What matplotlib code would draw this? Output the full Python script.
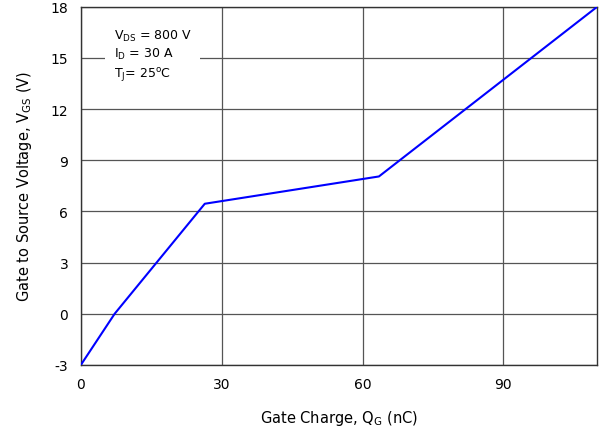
import matplotlib.pyplot as plt

plt.rcParams['axes.unicode_minus'] = False

# gate charge curve
qg = [0, 7.2, 26.4, 63.5, 110]
vgs = [-3, 0, 6.45, 8.05, 18]

x_ticks = [0, 30, 60, 90]
y_ticks = [-3, 0, 3, 6, 9, 12, 15, 18]

fig = plt.figure(figsize=(5.99, 4.31), dpi=100)
ax = fig.add_axes([0.135, 0.151, 0.862, 0.831])

ax.plot(qg, vgs, color='#0000ff', lw=1.5, zorder=3)

ax.set_xlim(0, 110)
ax.set_ylim(-3, 18)
ax.set_xticks(x_ticks)
ax.set_yticks(y_ticks)
ax.tick_params(length=0, pad=9, labelsize=10)
ax.grid(True, color='#555555', lw=0.9)
ax.set_axisbelow(True)
for s in ax.spines.values():
    s.set_color('#333333')
    s.set_linewidth(1.0)

ax.set_xlabel('Gate Charge, Q$_\\mathregular{G}$ (nC)', fontsize=10.5, labelpad=12)
ax.set_ylabel('Gate to Source Voltage, V$_\\mathregular{GS}$ (V)', fontsize=10.5, labelpad=12)

ax.text(7.0, 15.15,
        'V$_\\mathregular{DS}$ = 800 V\nI$_\\mathregular{D}$ = 30 A\nT$_\\mathregular{J}$= 25$\\mathregular{^o}$C',
        fontsize=9, va='center', ha='left', linespacing=1.3,
        bbox=dict(facecolor='white', edgecolor='none', pad=6), zorder=4)

plt.savefig('out.png', dpi=100)
